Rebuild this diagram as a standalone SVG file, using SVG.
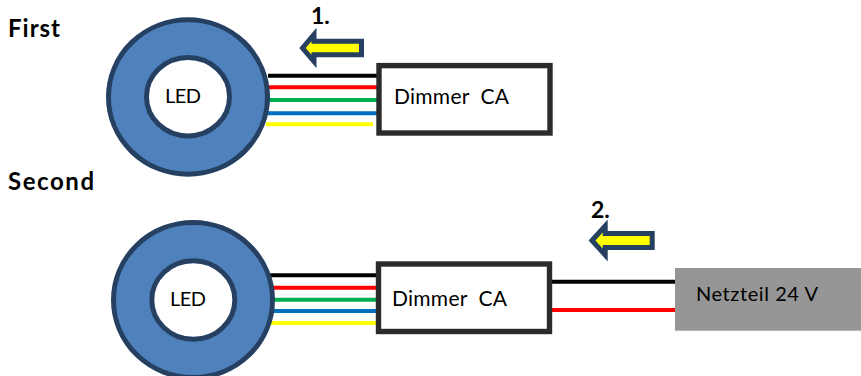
<svg xmlns="http://www.w3.org/2000/svg" width="861" height="376" viewBox="0 0 861 376">
<style>
text{font-family:Lato,"Liberation Sans",sans-serif;fill:#000}
.b{font-weight:700;font-size:24px}
.n{font-weight:700;font-size:23px}
.t{font-size:20px}
.d{font-size:21px}
.ring{fill:#4f81bd;stroke:#254061;stroke-width:5}
.hole{fill:#fff;stroke:#254061;stroke-width:5}
.box{fill:#fff;stroke:#2b2b2b;stroke-width:5.4}
.arrow{fill:#ff0;stroke:#254061;stroke-width:5;stroke-miterlimit:10}
.w{fill:none;stroke-width:4}
.k{stroke:#000}.r{stroke:#f00}.g{stroke:#00b050}.u{stroke:#0070c0}.y{stroke:#ff0}
</style>
<rect width="861" height="376" fill="#fff"/>
<g id="connectors">
<path class="w k" d="M268 75.7H378"/><path class="w r" d="M268 87.3H378"/><path class="w g" d="M268 100H378"/><path class="w u" d="M268 113.3H378"/><path class="w y" d="M266 124.3H373"/>
<path class="w k" d="M270 275.3H378"/><path class="w r" d="M272 287.7H378"/><path class="w g" d="M272 299.7H378"/><path class="w u" d="M272 311H378"/><path class="w y" d="M270 323H378"/>
<path class="w k" d="M550 281.7H676"/><path class="w r" d="M550 310H676"/>
</g>
<g id="led-1"><ellipse class="ring" cx="188" cy="97" rx="79.5" ry="77.2"/><ellipse class="hole" cx="188" cy="96.7" rx="41.5" ry="39.2"/><text class="t" x="165" y="103" textLength="36">LED</text></g>
<g id="dimmer-1"><rect class="box" x="379" y="65.6" width="171" height="67.4"/><text class="d" x="394" y="104" xml:space="preserve" textLength="115">Dimmer  CA</text></g>
<g id="led-2"><ellipse class="ring" cx="193" cy="300" rx="79.5" ry="77.5"/><ellipse class="hole" cx="193.3" cy="300" rx="41.5" ry="39.2"/><text class="t" x="170" y="306" textLength="36">LED</text></g>
<g id="dimmer-2"><rect class="box" x="378.5" y="264" width="171" height="67.5"/><text class="d" x="392" y="306" xml:space="preserve" textLength="115">Dimmer  CA</text></g>
<g id="psu"><rect x="675" y="268" width="186" height="62.7" fill="#969696"/><text class="t" x="696" y="301" textLength="122">Netzteil 24 V</text></g>
<g id="arrow-1"><polygon class="arrow" points="302.5,48 314,34.5 314,41.2 361.5,41.2 361.5,54.8 314,54.8 314,61.5"/><text class="n" x="311" y="24">1.</text></g>
<g id="arrow-2"><polygon class="arrow" points="592,240.5 605.2,226 605.2,233.5 652.2,233.5 652.2,247.5 605.2,247.5 605.2,255"/><text class="n" x="591" y="218">2.</text></g>
<g id="label-first"><text class="b" x="8" y="37" textLength="52">First</text></g>
<g id="label-second"><text class="b" x="8" y="189.5" textLength="86">Second</text></g>
</svg>
